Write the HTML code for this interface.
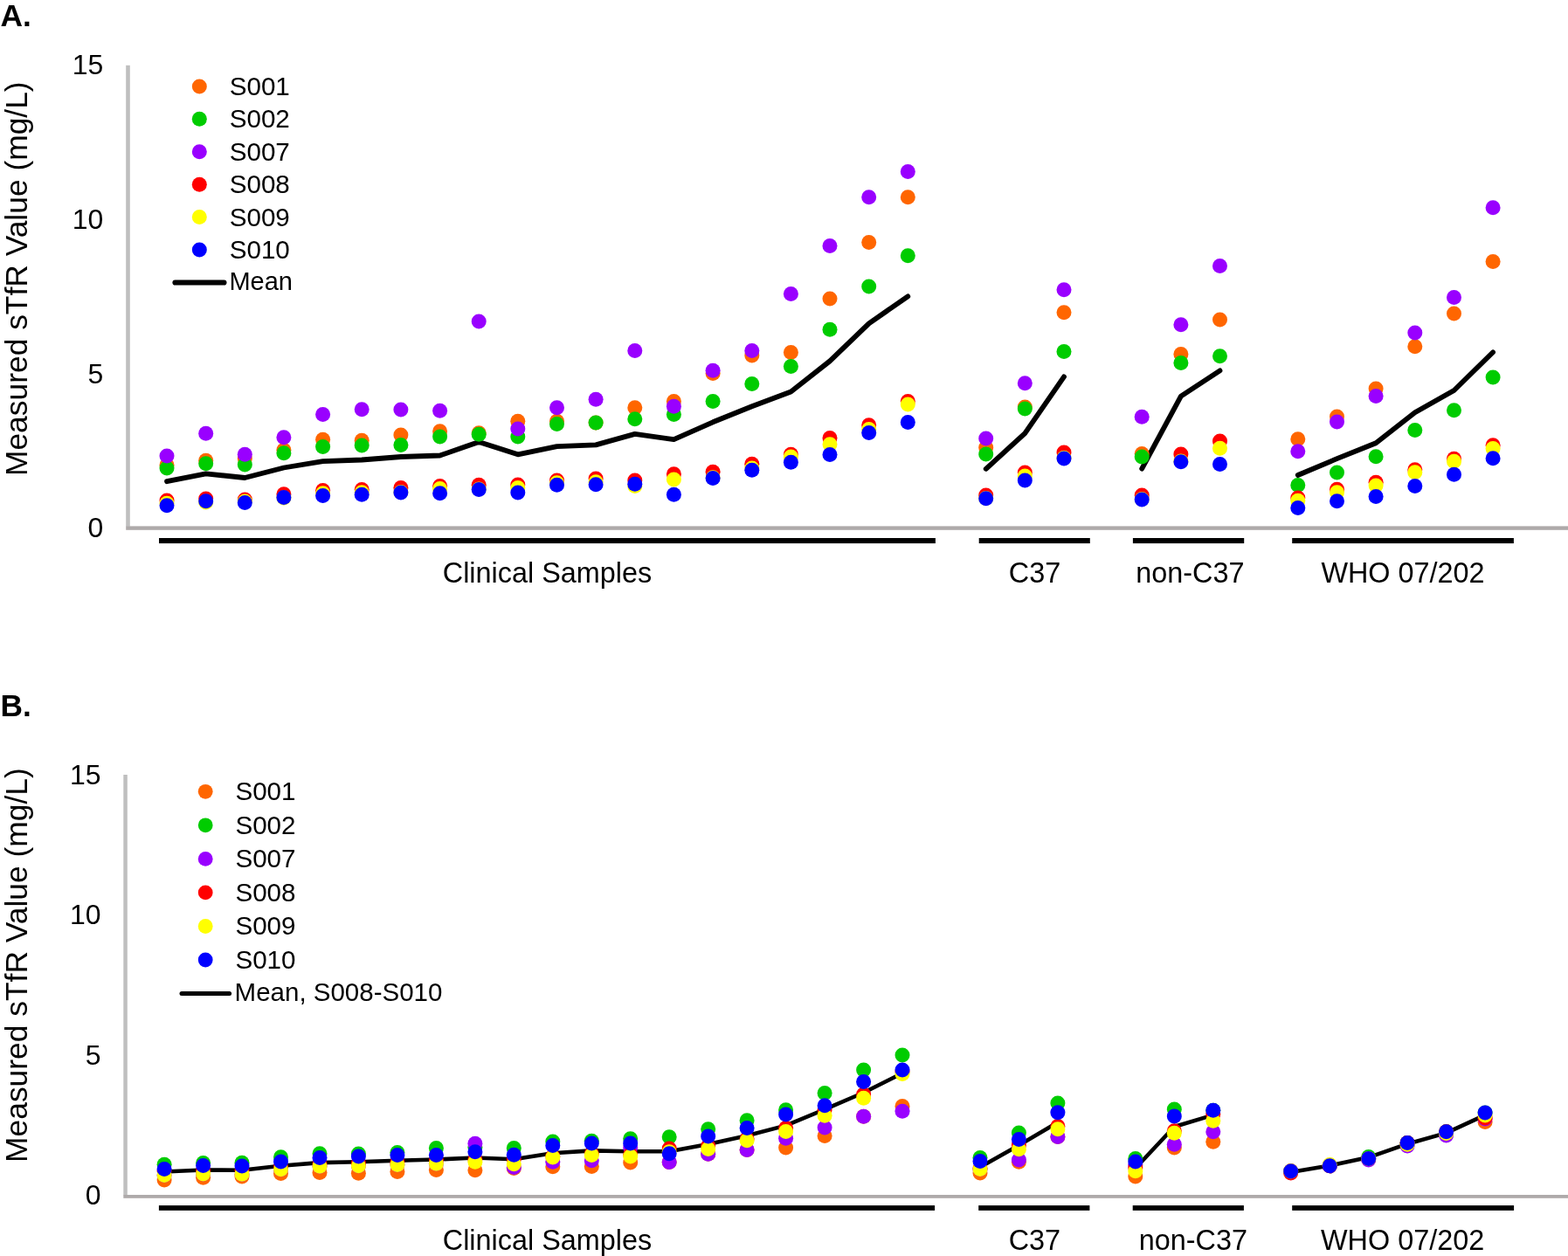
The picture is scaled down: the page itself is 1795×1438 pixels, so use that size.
<!DOCTYPE html>
<html><head><meta charset="utf-8"><title>Measured sTfR Value</title>
<style>html,body{margin:0;padding:0;background:#fff;width:1795px;height:1438px;overflow:hidden}svg{display:block}</style>
</head><body>
<svg width="1795" height="1438" viewBox="0 0 1795 1438" font-family="'Liberation Sans', Arial, Helvetica, sans-serif">
<rect width="1795" height="1438" fill="#fff"/>
<text x="0.5" y="30" font-weight="bold" font-size="35.3">A.</text>
<text transform="translate(30.9,319.2) rotate(-90)" text-anchor="middle" font-size="35.4">Measured sTfR Value (mg/L)</text>
<text x="118.3" y="615.2" text-anchor="end" font-size="32">0</text>
<text x="118.3" y="438.6" text-anchor="end" font-size="32">5</text>
<text x="118.3" y="262.0" text-anchor="end" font-size="32">10</text>
<text x="118.3" y="85.4" text-anchor="end" font-size="32">15</text>
<rect x="144.2" y="74.8" width="4.6" height="528" fill="#BFBFBF"/>
<rect x="144.2" y="602.4" width="1651" height="4.4" fill="#AEAAAA"/>
<rect x="182" y="616" width="888.9" height="6.1" fill="#000"/>
<rect x="1120.7" y="616" width="127.1" height="6.1" fill="#000"/>
<rect x="1296.9" y="616" width="127.3" height="6.1" fill="#000"/>
<rect x="1479.2" y="616" width="253.7" height="6.1" fill="#000"/>
<text x="626.5" y="667.3" text-anchor="middle" font-size="32.4">Clinical Samples</text>
<text x="1184.5" y="667.3" text-anchor="middle" font-size="32.4">C37</text>
<text x="1362.4" y="667.3" text-anchor="middle" font-size="32.4">non-C37</text>
<text x="1606" y="667.3" text-anchor="middle" font-size="32.4">WHO 07/202</text>
<polyline points="191.0,551.2 235.7,542.4 280.3,547.0 324.9,535.5 369.6,528.2 414.2,526.5 458.9,523.0 503.6,521.5 548.2,505.9 592.8,520.3 637.5,511.1 682.1,509.4 726.8,496.9 771.4,503.2 816.1,483.3 860.8,465.2 905.4,448.5 950.0,413.4 994.7,370.4 1039.3,339.3" fill="none" stroke="#000" stroke-width="5.8" stroke-linejoin="round" stroke-linecap="round"/>
<polyline points="1128.7,536.8 1173.3,496.1 1218.0,431.4" fill="none" stroke="#000" stroke-width="5.8" stroke-linejoin="round" stroke-linecap="round"/>
<polyline points="1307.2,536.6 1351.9,453.6 1396.5,424.4" fill="none" stroke="#000" stroke-width="5.8" stroke-linejoin="round" stroke-linecap="round"/>
<polyline points="1485.8,544.0 1530.5,525.2 1575.1,507.2 1619.8,472.2 1664.5,447.0 1709.1,403.3" fill="none" stroke="#000" stroke-width="5.8" stroke-linejoin="round" stroke-linecap="round"/>
<g fill="#FF6600"><circle cx="191.0" cy="532.4" r="8.5"/><circle cx="235.7" cy="527.2" r="8.5"/><circle cx="280.3" cy="525.1" r="8.5"/><circle cx="324.9" cy="515.3" r="8.5"/><circle cx="369.6" cy="503.2" r="8.5"/><circle cx="414.2" cy="504.2" r="8.5"/><circle cx="458.9" cy="498.0" r="8.5"/><circle cx="503.6" cy="493.8" r="8.5"/><circle cx="548.2" cy="495.8" r="8.5"/><circle cx="592.8" cy="482.3" r="8.5"/><circle cx="637.5" cy="482.3" r="8.5"/><circle cx="682.1" cy="484.0" r="8.5"/><circle cx="726.8" cy="466.7" r="8.5"/><circle cx="771.4" cy="459.4" r="8.5"/><circle cx="816.1" cy="427.6" r="8.5"/><circle cx="860.8" cy="407.0" r="8.5"/><circle cx="905.4" cy="403.4" r="8.5"/><circle cx="950.0" cy="341.9" r="8.5"/><circle cx="994.7" cy="277.4" r="8.5"/><circle cx="1039.3" cy="225.7" r="8.5"/><circle cx="1128.7" cy="512.4" r="8.5"/><circle cx="1173.3" cy="465.9" r="8.5"/><circle cx="1218.0" cy="357.8" r="8.5"/><circle cx="1307.2" cy="519.5" r="8.5"/><circle cx="1351.9" cy="405.6" r="8.5"/><circle cx="1396.5" cy="366.0" r="8.5"/><circle cx="1485.8" cy="502.8" r="8.5"/><circle cx="1530.5" cy="477.0" r="8.5"/><circle cx="1575.1" cy="444.9" r="8.5"/><circle cx="1619.8" cy="396.7" r="8.5"/><circle cx="1664.5" cy="359.0" r="8.5"/><circle cx="1709.1" cy="299.5" r="8.5"/></g>
<g fill="#00CC00"><circle cx="191.0" cy="536.1" r="8.5"/><circle cx="235.7" cy="530.7" r="8.5"/><circle cx="280.3" cy="532.0" r="8.5"/><circle cx="324.9" cy="518.8" r="8.5"/><circle cx="369.6" cy="511.5" r="8.5"/><circle cx="414.2" cy="510.0" r="8.5"/><circle cx="458.9" cy="509.4" r="8.5"/><circle cx="503.6" cy="500.0" r="8.5"/><circle cx="548.2" cy="497.3" r="8.5"/><circle cx="592.8" cy="500.0" r="8.5"/><circle cx="637.5" cy="485.4" r="8.5"/><circle cx="682.1" cy="484.0" r="8.5"/><circle cx="726.8" cy="479.8" r="8.5"/><circle cx="771.4" cy="474.4" r="8.5"/><circle cx="816.1" cy="459.4" r="8.5"/><circle cx="860.8" cy="439.5" r="8.5"/><circle cx="905.4" cy="419.5" r="8.5"/><circle cx="950.0" cy="377.2" r="8.5"/><circle cx="994.7" cy="328.1" r="8.5"/><circle cx="1039.3" cy="292.7" r="8.5"/><circle cx="1128.7" cy="520.1" r="8.5"/><circle cx="1173.3" cy="468.0" r="8.5"/><circle cx="1218.0" cy="402.6" r="8.5"/><circle cx="1307.2" cy="523.1" r="8.5"/><circle cx="1351.9" cy="415.6" r="8.5"/><circle cx="1396.5" cy="407.7" r="8.5"/><circle cx="1485.8" cy="555.6" r="8.5"/><circle cx="1530.5" cy="540.9" r="8.5"/><circle cx="1575.1" cy="522.7" r="8.5"/><circle cx="1619.8" cy="492.6" r="8.5"/><circle cx="1664.5" cy="469.8" r="8.5"/><circle cx="1709.1" cy="432.0" r="8.5"/></g>
<g fill="#9900FF"><circle cx="191.0" cy="521.9" r="8.5"/><circle cx="235.7" cy="496.3" r="8.5"/><circle cx="280.3" cy="520.3" r="8.5"/><circle cx="324.9" cy="500.7" r="8.5"/><circle cx="369.6" cy="474.4" r="8.5"/><circle cx="414.2" cy="468.7" r="8.5"/><circle cx="458.9" cy="469.0" r="8.5"/><circle cx="503.6" cy="470.2" r="8.5"/><circle cx="548.2" cy="368.0" r="8.5"/><circle cx="592.8" cy="491.1" r="8.5"/><circle cx="637.5" cy="466.7" r="8.5"/><circle cx="682.1" cy="457.3" r="8.5"/><circle cx="726.8" cy="401.4" r="8.5"/><circle cx="771.4" cy="465.2" r="8.5"/><circle cx="816.1" cy="424.3" r="8.5"/><circle cx="860.8" cy="401.5" r="8.5"/><circle cx="905.4" cy="336.6" r="8.5"/><circle cx="950.0" cy="281.6" r="8.5"/><circle cx="994.7" cy="225.7" r="8.5"/><circle cx="1039.3" cy="196.5" r="8.5"/><circle cx="1128.7" cy="502.0" r="8.5"/><circle cx="1173.3" cy="438.7" r="8.5"/><circle cx="1218.0" cy="331.7" r="8.5"/><circle cx="1307.2" cy="477.2" r="8.5"/><circle cx="1351.9" cy="371.8" r="8.5"/><circle cx="1396.5" cy="304.6" r="8.5"/><circle cx="1485.8" cy="516.8" r="8.5"/><circle cx="1530.5" cy="483.1" r="8.5"/><circle cx="1575.1" cy="453.6" r="8.5"/><circle cx="1619.8" cy="381.1" r="8.5"/><circle cx="1664.5" cy="340.4" r="8.5"/><circle cx="1709.1" cy="237.7" r="8.5"/></g>
<g fill="#FF0000"><circle cx="191.0" cy="573.1" r="8.5"/><circle cx="235.7" cy="571.0" r="8.5"/><circle cx="280.3" cy="572.0" r="8.5"/><circle cx="324.9" cy="565.8" r="8.5"/><circle cx="369.6" cy="561.6" r="8.5"/><circle cx="414.2" cy="560.5" r="8.5"/><circle cx="458.9" cy="558.5" r="8.5"/><circle cx="503.6" cy="556.4" r="8.5"/><circle cx="548.2" cy="555.3" r="8.5"/><circle cx="592.8" cy="554.9" r="8.5"/><circle cx="637.5" cy="550.1" r="8.5"/><circle cx="682.1" cy="548.0" r="8.5"/><circle cx="726.8" cy="550.1" r="8.5"/><circle cx="771.4" cy="542.8" r="8.5"/><circle cx="816.1" cy="540.3" r="8.5"/><circle cx="860.8" cy="531.3" r="8.5"/><circle cx="905.4" cy="520.3" r="8.5"/><circle cx="950.0" cy="501.4" r="8.5"/><circle cx="994.7" cy="486.7" r="8.5"/><circle cx="1039.3" cy="459.4" r="8.5"/><circle cx="1128.7" cy="567.1" r="8.5"/><circle cx="1173.3" cy="541.0" r="8.5"/><circle cx="1218.0" cy="518.0" r="8.5"/><circle cx="1307.2" cy="566.9" r="8.5"/><circle cx="1351.9" cy="519.9" r="8.5"/><circle cx="1396.5" cy="504.9" r="8.5"/><circle cx="1485.8" cy="570.0" r="8.5"/><circle cx="1530.5" cy="560.2" r="8.5"/><circle cx="1575.1" cy="552.3" r="8.5"/><circle cx="1619.8" cy="537.7" r="8.5"/><circle cx="1664.5" cy="525.2" r="8.5"/><circle cx="1709.1" cy="509.8" r="8.5"/></g>
<g fill="#FFFF00"><circle cx="191.0" cy="576.2" r="8.5"/><circle cx="235.7" cy="575.1" r="8.5"/><circle cx="280.3" cy="574.0" r="8.5"/><circle cx="324.9" cy="570.0" r="8.5"/><circle cx="369.6" cy="564.7" r="8.5"/><circle cx="414.2" cy="563.7" r="8.5"/><circle cx="458.9" cy="563.5" r="8.5"/><circle cx="503.6" cy="559.5" r="8.5"/><circle cx="548.2" cy="560.0" r="8.5"/><circle cx="592.8" cy="558.5" r="8.5"/><circle cx="637.5" cy="552.8" r="8.5"/><circle cx="682.1" cy="551.8" r="8.5"/><circle cx="726.8" cy="556.4" r="8.5"/><circle cx="771.4" cy="549.1" r="8.5"/><circle cx="816.1" cy="546.8" r="8.5"/><circle cx="860.8" cy="536.0" r="8.5"/><circle cx="905.4" cy="523.0" r="8.5"/><circle cx="950.0" cy="508.8" r="8.5"/><circle cx="994.7" cy="491.5" r="8.5"/><circle cx="1039.3" cy="462.9" r="8.5"/><circle cx="1128.7" cy="570.5" r="8.5"/><circle cx="1173.3" cy="545.1" r="8.5"/><circle cx="1218.0" cy="524.2" r="8.5"/><circle cx="1307.2" cy="571.6" r="8.5"/><circle cx="1351.9" cy="528.0" r="8.5"/><circle cx="1396.5" cy="513.3" r="8.5"/><circle cx="1485.8" cy="573.2" r="8.5"/><circle cx="1530.5" cy="563.8" r="8.5"/><circle cx="1575.1" cy="556.1" r="8.5"/><circle cx="1619.8" cy="540.8" r="8.5"/><circle cx="1664.5" cy="528.3" r="8.5"/><circle cx="1709.1" cy="513.4" r="8.5"/></g>
<g fill="#0000FF"><circle cx="191.0" cy="578.7" r="8.5"/><circle cx="235.7" cy="573.7" r="8.5"/><circle cx="280.3" cy="575.4" r="8.5"/><circle cx="324.9" cy="569.5" r="8.5"/><circle cx="369.6" cy="567.4" r="8.5"/><circle cx="414.2" cy="566.2" r="8.5"/><circle cx="458.9" cy="564.1" r="8.5"/><circle cx="503.6" cy="564.7" r="8.5"/><circle cx="548.2" cy="560.5" r="8.5"/><circle cx="592.8" cy="564.1" r="8.5"/><circle cx="637.5" cy="555.3" r="8.5"/><circle cx="682.1" cy="554.7" r="8.5"/><circle cx="726.8" cy="554.3" r="8.5"/><circle cx="771.4" cy="566.2" r="8.5"/><circle cx="816.1" cy="547.4" r="8.5"/><circle cx="860.8" cy="538.2" r="8.5"/><circle cx="905.4" cy="529.2" r="8.5"/><circle cx="950.0" cy="520.5" r="8.5"/><circle cx="994.7" cy="495.5" r="8.5"/><circle cx="1039.3" cy="483.6" r="8.5"/><circle cx="1128.7" cy="570.8" r="8.5"/><circle cx="1173.3" cy="550.0" r="8.5"/><circle cx="1218.0" cy="524.9" r="8.5"/><circle cx="1307.2" cy="572.1" r="8.5"/><circle cx="1351.9" cy="528.7" r="8.5"/><circle cx="1396.5" cy="531.4" r="8.5"/><circle cx="1485.8" cy="581.5" r="8.5"/><circle cx="1530.5" cy="573.7" r="8.5"/><circle cx="1575.1" cy="568.4" r="8.5"/><circle cx="1619.8" cy="556.5" r="8.5"/><circle cx="1664.5" cy="543.3" r="8.5"/><circle cx="1709.1" cy="524.8" r="8.5"/></g>
<circle cx="228.3" cy="98.9" r="8.5" fill="#FF6600"/>
<text x="262.7" y="108.9" font-size="29.6">S001</text>
<circle cx="228.3" cy="136.3" r="8.5" fill="#00CC00"/>
<text x="262.7" y="146.3" font-size="29.6">S002</text>
<circle cx="228.3" cy="173.8" r="8.5" fill="#9900FF"/>
<text x="262.7" y="183.8" font-size="29.6">S007</text>
<circle cx="228.3" cy="211.2" r="8.5" fill="#FF0000"/>
<text x="262.7" y="221.2" font-size="29.6">S008</text>
<circle cx="228.3" cy="248.6" r="8.5" fill="#FFFF00"/>
<text x="262.7" y="258.6" font-size="29.6">S009</text>
<circle cx="228.3" cy="286.1" r="8.5" fill="#0000FF"/>
<text x="262.7" y="296.1" font-size="29.6">S010</text>
<line x1="200.5" y1="323.5" x2="256.4" y2="323.5" stroke="#000" stroke-width="6.2" stroke-linecap="round"/>
<text x="262.4" y="332.4" font-size="29">Mean</text>
<text x="0.5" y="820" font-weight="bold" font-size="35.3">B.</text>
<text transform="translate(30.7,1105.1) rotate(-90)" text-anchor="middle" font-size="35.4">Measured sTfR Value (mg/L)</text>
<text x="115.5" y="1379.4" text-anchor="end" font-size="32">0</text>
<text x="115.5" y="1218.9" text-anchor="end" font-size="32">5</text>
<text x="115.5" y="1058.4" text-anchor="end" font-size="32">10</text>
<text x="115.5" y="897.9" text-anchor="end" font-size="32">15</text>
<rect x="141.3" y="887" width="4.5" height="481.5" fill="#BFBFBF"/>
<rect x="141.3" y="1368" width="1654" height="3.8" fill="#AEAAAA"/>
<rect x="181.9" y="1380.1" width="888.2" height="5.8" fill="#000"/>
<rect x="1120.2" y="1380.1" width="127.2" height="5.8" fill="#000"/>
<rect x="1296.7" y="1380.1" width="127.2" height="5.8" fill="#000"/>
<rect x="1479.2" y="1380.1" width="253.9" height="5.8" fill="#000"/>
<text x="626.5" y="1431" text-anchor="middle" font-size="32.4">Clinical Samples</text>
<text x="1184.4" y="1431" text-anchor="middle" font-size="32.4">C37</text>
<text x="1365.9" y="1431" text-anchor="middle" font-size="32.4">non-C37</text>
<text x="1605.6" y="1431" text-anchor="middle" font-size="32.4">WHO 07/202</text>
<polyline points="188.1,1341.5 232.6,1339.5 277.0,1339.8 321.5,1334.8 366.0,1331.1 410.4,1330.2 454.9,1328.8 499.4,1327.5 543.9,1325.5 588.3,1327.2 632.8,1320.2 677.3,1317.4 721.7,1318.3 766.2,1318.2 810.7,1310.0 855.1,1300.3 899.6,1288.6 944.1,1270.2 988.6,1251.0 1033.0,1228.8" fill="none" stroke="#000" stroke-width="4.6" stroke-linejoin="round" stroke-linecap="round"/>
<polyline points="1122.0,1336.3 1166.4,1311.2 1210.9,1285.1" fill="none" stroke="#000" stroke-width="4.6" stroke-linejoin="round" stroke-linecap="round"/>
<polyline points="1299.8,1337.5 1344.3,1290.0 1388.8,1276.6" fill="none" stroke="#000" stroke-width="4.6" stroke-linejoin="round" stroke-linecap="round"/>
<polyline points="1477.7,1341.9 1522.2,1334.5 1566.7,1325.1 1611.1,1309.7 1655.6,1297.1 1700.1,1276.7" fill="none" stroke="#000" stroke-width="4.6" stroke-linejoin="round" stroke-linecap="round"/>
<g fill="#FF6600"><circle cx="188.1" cy="1350.9" r="8.5"/><circle cx="232.6" cy="1348.2" r="8.5"/><circle cx="277.0" cy="1346.9" r="8.5"/><circle cx="321.5" cy="1343.5" r="8.5"/><circle cx="366.0" cy="1342.4" r="8.5"/><circle cx="410.4" cy="1343.3" r="8.5"/><circle cx="454.9" cy="1341.5" r="8.5"/><circle cx="499.4" cy="1339.5" r="8.5"/><circle cx="543.9" cy="1339.8" r="8.5"/><circle cx="588.3" cy="1337.4" r="8.5"/><circle cx="632.8" cy="1335.8" r="8.5"/><circle cx="677.3" cy="1335.5" r="8.5"/><circle cx="721.7" cy="1331.1" r="8.5"/><circle cx="766.2" cy="1330.5" r="8.5"/><circle cx="810.7" cy="1321.2" r="8.5"/><circle cx="855.1" cy="1316.5" r="8.5"/><circle cx="899.6" cy="1314.0" r="8.5"/><circle cx="944.1" cy="1300.6" r="8.5"/><circle cx="988.6" cy="1278.3" r="8.5"/><circle cx="1033.0" cy="1266.4" r="8.5"/><circle cx="1122.0" cy="1343.0" r="8.5"/><circle cx="1166.4" cy="1330.3" r="8.5"/><circle cx="1210.9" cy="1301.6" r="8.5"/><circle cx="1299.8" cy="1347.0" r="8.5"/><circle cx="1344.3" cy="1313.9" r="8.5"/><circle cx="1388.8" cy="1307.3" r="8.5"/><circle cx="1477.7" cy="1340.6" r="8.5"/><circle cx="1522.2" cy="1334.8" r="8.5"/><circle cx="1566.7" cy="1326.4" r="8.5"/><circle cx="1611.1" cy="1308.5" r="8.5"/><circle cx="1655.6" cy="1295.8" r="8.5"/><circle cx="1700.1" cy="1284.5" r="8.5"/></g>
<g fill="#00CC00"><circle cx="188.1" cy="1333.3" r="8.5"/><circle cx="232.6" cy="1331.5" r="8.5"/><circle cx="277.0" cy="1331.2" r="8.5"/><circle cx="321.5" cy="1324.8" r="8.5"/><circle cx="366.0" cy="1320.8" r="8.5"/><circle cx="410.4" cy="1321.1" r="8.5"/><circle cx="454.9" cy="1319.5" r="8.5"/><circle cx="499.4" cy="1314.5" r="8.5"/><circle cx="543.9" cy="1313.6" r="8.5"/><circle cx="588.3" cy="1314.4" r="8.5"/><circle cx="632.8" cy="1306.9" r="8.5"/><circle cx="677.3" cy="1306.2" r="8.5"/><circle cx="721.7" cy="1303.8" r="8.5"/><circle cx="766.2" cy="1301.7" r="8.5"/><circle cx="810.7" cy="1292.8" r="8.5"/><circle cx="855.1" cy="1282.8" r="8.5"/><circle cx="899.6" cy="1270.7" r="8.5"/><circle cx="944.1" cy="1251.5" r="8.5"/><circle cx="988.6" cy="1225.1" r="8.5"/><circle cx="1033.0" cy="1208.1" r="8.5"/><circle cx="1122.0" cy="1325.5" r="8.5"/><circle cx="1166.4" cy="1297.1" r="8.5"/><circle cx="1210.9" cy="1263.1" r="8.5"/><circle cx="1299.8" cy="1326.6" r="8.5"/><circle cx="1344.3" cy="1270.1" r="8.5"/><circle cx="1388.8" cy="1271.2" r="8.5"/><circle cx="1477.7" cy="1341.0" r="8.5"/><circle cx="1522.2" cy="1334.8" r="8.5"/><circle cx="1566.7" cy="1324.4" r="8.5"/><circle cx="1611.1" cy="1308.5" r="8.5"/><circle cx="1655.6" cy="1295.8" r="8.5"/><circle cx="1700.1" cy="1274.1" r="8.5"/></g>
<g fill="#9900FF"><circle cx="188.1" cy="1345.5" r="8.5"/><circle cx="232.6" cy="1343.9" r="8.5"/><circle cx="277.0" cy="1344.2" r="8.5"/><circle cx="321.5" cy="1338.8" r="8.5"/><circle cx="366.0" cy="1335.2" r="8.5"/><circle cx="410.4" cy="1334.8" r="8.5"/><circle cx="454.9" cy="1333.5" r="8.5"/><circle cx="499.4" cy="1332.2" r="8.5"/><circle cx="543.9" cy="1309.3" r="8.5"/><circle cx="588.3" cy="1336.6" r="8.5"/><circle cx="632.8" cy="1330.3" r="8.5"/><circle cx="677.3" cy="1328.8" r="8.5"/><circle cx="721.7" cy="1314.0" r="8.5"/><circle cx="766.2" cy="1330.5" r="8.5"/><circle cx="810.7" cy="1321.2" r="8.5"/><circle cx="855.1" cy="1316.5" r="8.5"/><circle cx="899.6" cy="1303.3" r="8.5"/><circle cx="944.1" cy="1291.1" r="8.5"/><circle cx="988.6" cy="1278.3" r="8.5"/><circle cx="1033.0" cy="1272.2" r="8.5"/><circle cx="1122.0" cy="1338.6" r="8.5"/><circle cx="1166.4" cy="1327.9" r="8.5"/><circle cx="1210.9" cy="1301.6" r="8.5"/><circle cx="1299.8" cy="1333.6" r="8.5"/><circle cx="1344.3" cy="1310.2" r="8.5"/><circle cx="1388.8" cy="1295.7" r="8.5"/><circle cx="1477.7" cy="1341.0" r="8.5"/><circle cx="1522.2" cy="1334.8" r="8.5"/><circle cx="1566.7" cy="1327.9" r="8.5"/><circle cx="1611.1" cy="1312.0" r="8.5"/><circle cx="1655.6" cy="1300.0" r="8.5"/><circle cx="1700.1" cy="1281.0" r="8.5"/></g>
<g fill="#FF0000"><circle cx="188.1" cy="1340.6" r="8.5"/><circle cx="232.6" cy="1340.2" r="8.5"/><circle cx="277.0" cy="1340.1" r="8.5"/><circle cx="321.5" cy="1335.5" r="8.5"/><circle cx="366.0" cy="1332.5" r="8.5"/><circle cx="410.4" cy="1331.9" r="8.5"/><circle cx="454.9" cy="1330.4" r="8.5"/><circle cx="499.4" cy="1327.8" r="8.5"/><circle cx="543.9" cy="1327.6" r="8.5"/><circle cx="588.3" cy="1326.7" r="8.5"/><circle cx="632.8" cy="1324.1" r="8.5"/><circle cx="677.3" cy="1320.7" r="8.5"/><circle cx="721.7" cy="1321.8" r="8.5"/><circle cx="766.2" cy="1315.0" r="8.5"/><circle cx="810.7" cy="1312.0" r="8.5"/><circle cx="855.1" cy="1303.7" r="8.5"/><circle cx="899.6" cy="1291.5" r="8.5"/><circle cx="944.1" cy="1270.5" r="8.5"/><circle cx="988.6" cy="1253.0" r="8.5"/><circle cx="1033.0" cy="1227.0" r="8.5"/><circle cx="1122.0" cy="1338.0" r="8.5"/><circle cx="1166.4" cy="1311.0" r="8.5"/><circle cx="1210.9" cy="1289.6" r="8.5"/><circle cx="1299.8" cy="1337.0" r="8.5"/><circle cx="1344.3" cy="1294.8" r="8.5"/><circle cx="1388.8" cy="1275.4" r="8.5"/><circle cx="1477.7" cy="1343.0" r="8.5"/><circle cx="1522.2" cy="1334.8" r="8.5"/><circle cx="1566.7" cy="1326.4" r="8.5"/><circle cx="1611.1" cy="1308.5" r="8.5"/><circle cx="1655.6" cy="1295.8" r="8.5"/><circle cx="1700.1" cy="1280.1" r="8.5"/></g>
<g fill="#FFFF00"><circle cx="188.1" cy="1345.5" r="8.5"/><circle cx="232.6" cy="1343.9" r="8.5"/><circle cx="277.0" cy="1344.2" r="8.5"/><circle cx="321.5" cy="1338.8" r="8.5"/><circle cx="366.0" cy="1335.2" r="8.5"/><circle cx="410.4" cy="1334.8" r="8.5"/><circle cx="454.9" cy="1333.5" r="8.5"/><circle cx="499.4" cy="1332.2" r="8.5"/><circle cx="543.9" cy="1330.2" r="8.5"/><circle cx="588.3" cy="1332.7" r="8.5"/><circle cx="632.8" cy="1324.9" r="8.5"/><circle cx="677.3" cy="1322.5" r="8.5"/><circle cx="721.7" cy="1324.1" r="8.5"/><circle cx="766.2" cy="1318.8" r="8.5"/><circle cx="810.7" cy="1315.4" r="8.5"/><circle cx="855.1" cy="1305.8" r="8.5"/><circle cx="899.6" cy="1295.6" r="8.5"/><circle cx="944.1" cy="1277.2" r="8.5"/><circle cx="988.6" cy="1257.2" r="8.5"/><circle cx="1033.0" cy="1229.4" r="8.5"/><circle cx="1122.0" cy="1338.6" r="8.5"/><circle cx="1166.4" cy="1315.7" r="8.5"/><circle cx="1210.9" cy="1292.8" r="8.5"/><circle cx="1299.8" cy="1340.8" r="8.5"/><circle cx="1344.3" cy="1297.3" r="8.5"/><circle cx="1388.8" cy="1283.2" r="8.5"/><circle cx="1477.7" cy="1341.0" r="8.5"/><circle cx="1522.2" cy="1333.4" r="8.5"/><circle cx="1566.7" cy="1326.4" r="8.5"/><circle cx="1611.1" cy="1310.2" r="8.5"/><circle cx="1655.6" cy="1297.5" r="8.5"/><circle cx="1700.1" cy="1276.9" r="8.5"/></g>
<g fill="#0000FF"><circle cx="188.1" cy="1338.4" r="8.5"/><circle cx="232.6" cy="1334.4" r="8.5"/><circle cx="277.0" cy="1335.1" r="8.5"/><circle cx="321.5" cy="1330.1" r="8.5"/><circle cx="366.0" cy="1325.6" r="8.5"/><circle cx="410.4" cy="1323.9" r="8.5"/><circle cx="454.9" cy="1322.5" r="8.5"/><circle cx="499.4" cy="1322.5" r="8.5"/><circle cx="543.9" cy="1318.7" r="8.5"/><circle cx="588.3" cy="1322.2" r="8.5"/><circle cx="632.8" cy="1311.6" r="8.5"/><circle cx="677.3" cy="1309.0" r="8.5"/><circle cx="721.7" cy="1309.0" r="8.5"/><circle cx="766.2" cy="1320.8" r="8.5"/><circle cx="810.7" cy="1301.1" r="8.5"/><circle cx="855.1" cy="1291.5" r="8.5"/><circle cx="899.6" cy="1276.1" r="8.5"/><circle cx="944.1" cy="1265.7" r="8.5"/><circle cx="988.6" cy="1238.5" r="8.5"/><circle cx="1033.0" cy="1225.1" r="8.5"/><circle cx="1122.0" cy="1329.6" r="8.5"/><circle cx="1166.4" cy="1304.5" r="8.5"/><circle cx="1210.9" cy="1273.7" r="8.5"/><circle cx="1299.8" cy="1330.1" r="8.5"/><circle cx="1344.3" cy="1278.1" r="8.5"/><circle cx="1388.8" cy="1271.2" r="8.5"/><circle cx="1477.7" cy="1340.9" r="8.5"/><circle cx="1522.2" cy="1334.8" r="8.5"/><circle cx="1566.7" cy="1326.4" r="8.5"/><circle cx="1611.1" cy="1308.5" r="8.5"/><circle cx="1655.6" cy="1295.8" r="8.5"/><circle cx="1700.1" cy="1274.1" r="8.5"/></g>
<circle cx="235.2" cy="906.3" r="8.4" fill="#FF6600"/>
<text x="269.4" y="916.2" font-size="29.6">S001</text>
<circle cx="235.2" cy="944.8" r="8.4" fill="#00CC00"/>
<text x="269.4" y="954.7" font-size="29.6">S002</text>
<circle cx="235.2" cy="983.4" r="8.4" fill="#9900FF"/>
<text x="269.4" y="993.3" font-size="29.6">S007</text>
<circle cx="235.2" cy="1021.9" r="8.4" fill="#FF0000"/>
<text x="269.4" y="1031.8" font-size="29.6">S008</text>
<circle cx="235.2" cy="1060.5" r="8.4" fill="#FFFF00"/>
<text x="269.4" y="1070.4" font-size="29.6">S009</text>
<circle cx="235.2" cy="1099.0" r="8.4" fill="#0000FF"/>
<text x="269.4" y="1108.9" font-size="29.6">S010</text>
<line x1="208" y1="1137.4" x2="262.6" y2="1137.4" stroke="#000" stroke-width="5" stroke-linecap="round"/>
<text x="268.6" y="1145.8" font-size="29.5">Mean, S008-S010</text>
</svg>
</body></html>
